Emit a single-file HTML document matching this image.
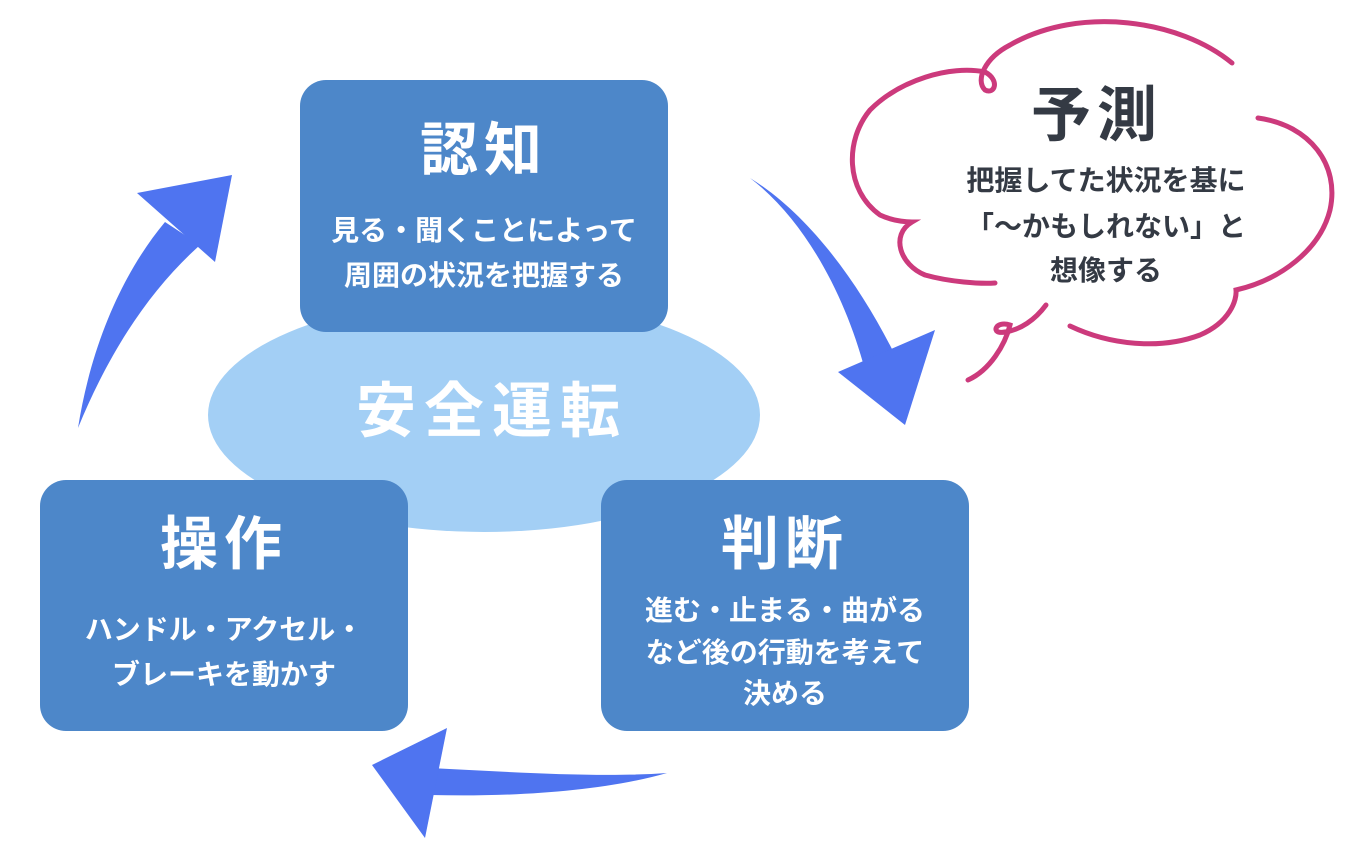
<!DOCTYPE html>
<html><head><meta charset="utf-8"><style>
html,body{margin:0;padding:0;background:#fff;}
svg text{font-family:"Liberation Sans","Noto Sans CJK JP",sans-serif;font-weight:bold;text-anchor:middle;}
</style></head><body>
<svg width="1368" height="852" viewBox="0 0 1368 852" xmlns="http://www.w3.org/2000/svg">
<ellipse cx="484" cy="415" rx="276" ry="117" fill="#a3cff5"/>
<rect x="300" y="80" width="368" height="252" rx="26" fill="#4d87c9"/>
<rect x="40" y="480" width="368" height="251" rx="26" fill="#4d87c9"/>
<rect x="601" y="480" width="368" height="251" rx="26" fill="#4d87c9"/>
<text x="484" y="170" font-size="58" fill="#fff" letter-spacing="6">認知</text>
<text x="484" y="240" font-size="28" fill="#fff">見る・聞くことによって</text>
<text x="484" y="285" font-size="28" fill="#fff">周囲の状況を把握する</text>
<text x="492" y="432" font-size="60" fill="#fff" letter-spacing="8">安全運転</text>
<text x="224" y="564" font-size="58" fill="#fff" letter-spacing="6">操作</text>
<text x="224" y="639" font-size="28" fill="#fff">ハンドル・アクセル・</text>
<text x="224" y="684" font-size="28" fill="#fff">ブレーキを動かす</text>
<text x="785" y="564" font-size="58" fill="#fff" letter-spacing="6">判断</text>
<text x="785" y="620" font-size="28" fill="#fff">進む・止まる・曲がる</text>
<text x="785" y="662" font-size="28" fill="#fff">など後の行動を考えて</text>
<text x="785" y="703" font-size="28" fill="#fff">決める</text>
<g fill="#4f74f0">
<path d="M78,428 C92,340 125,270 165,222 L200,245 C150,290 110,350 78,428 Z"/>
<polygon points="137,193 232,175 215,262"/>
<path d="M750,178 C805,220 845,295 865,370 L895,355 C860,285 810,215 750,178 Z"/>
<polygon points="838,372 935,330 905,425"/>
<path d="M667,773 C600,778 510,772 430,768 L430,795 C510,797 600,792 667,773 Z"/>
<polygon points="372,765 447,728 425,838"/>
</g>
<g fill="none" stroke="#cc3a7c" stroke-width="5" stroke-linecap="round">
<path d="M1232,63 C1180,20 1080,5 1010,45 C985,58 975,80 985,90 C995,95 1000,80 985,72 C950,65 900,80 870,110 C845,140 845,190 880,215 C895,222 910,222 912,222 C890,235 900,265 925,275 C950,282 980,284 995,283"/>
<path d="M1046,305 C1035,320 1020,330 1005,332 C990,335 995,320 1010,325 C1005,345 990,370 968,380"/>
<path d="M1070,326 C1110,345 1160,350 1200,335 C1230,322 1237,300 1236,290 C1280,280 1320,250 1330,210 C1340,165 1310,125 1258,118"/>
</g>
<text x="1097" y="136" font-size="60" fill="#343a44" letter-spacing="6">予測</text>
<text x="1106" y="190" font-size="28" fill="#343a44">把握してた状況を基に</text>
<text x="1106" y="236" font-size="28" fill="#343a44">「～かもしれない」と</text>
<text x="1106" y="280" font-size="28" fill="#343a44">想像する</text>
</svg>
</body></html>
